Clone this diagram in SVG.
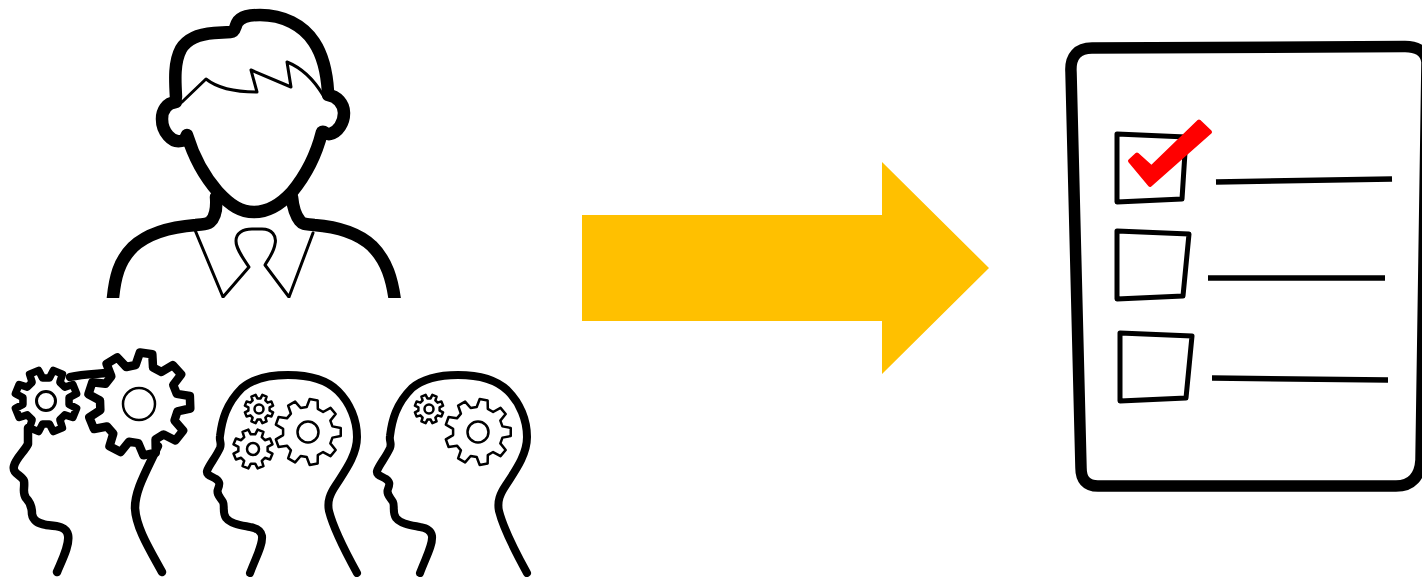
<svg xmlns="http://www.w3.org/2000/svg" width="1422" height="577" viewBox="0 0 1422 577">
<style>
.ln{fill:none;stroke:#000;stroke-linecap:round;stroke-linejoin:round}
#g8,#g9{vector-effect:non-scaling-stroke}
.gear{fill:#fff;stroke:#000;stroke-linejoin:round}
.hub{fill:#fff;stroke:#000}
.tk{stroke-width:12.5}
.head{stroke-width:8}
.box{fill:none;stroke:#000;stroke-width:5;stroke-linejoin:round}
.rule{fill:none;stroke:#000;stroke-width:5.5}
</style>
<defs>
<clipPath id="cut"><rect x="0" y="0" width="600" height="298"/></clipPath>
<path id="g9" d="M-8.55-37.03L-6.09-49.63L6.09-49.63L8.55-37.03L17.25-33.86L27.23-41.93L36.57-34.1L30.35-22.87L34.98-14.85L47.82-14.62L49.93-2.62L37.95 1.99L36.34 11.11L46.03 19.54L39.93 30.09L27.79 25.92L20.7 31.87L22.7 44.55L11.25 48.72L4.63 37.72L-4.63 37.72L-11.25 48.72L-22.7 44.55L-20.7 31.87L-27.79 25.92L-39.93 30.09L-46.03 19.54L-36.34 11.11L-37.95 1.99L-49.93-2.62L-47.82-14.62L-34.98-14.85L-30.35-22.87L-36.57-34.1L-27.23-41.93L-17.25-33.86Z"/>
<path id="g8" d="M-8.95-35.9L-7.82-49.38L7.82-49.38L8.95-35.9L19.06-31.71L29.39-40.45L40.45-29.39L31.71-19.06L35.9-8.95L49.38-7.82L49.38 7.82L35.9 8.95L31.71 19.06L40.45 29.39L29.39 40.45L19.06 31.71L8.95 35.9L7.82 49.38L-7.82 49.38L-8.95 35.9L-19.06 31.71L-29.39 40.45L-40.45 29.39L-31.71 19.06L-35.9 8.95L-49.38 7.82L-49.38-7.82L-35.9-8.95L-31.71-19.06L-40.45-29.39L-29.39-40.45L-19.06-31.71Z"/>
<path id="profile" d="M250 573C256 557 263 545 262 536C261 530 256 528 250 527C240 525 231 524 226 518C222 512 225 506 223 502C220 497 216 494 218 489C220 484 220 482 216 479C211 476 206 475 207 471C209 465 216 457 220 448C222 443 219 441 220 436C222 420 226 404 242 388C254 378 270 375 288 375C312 375 328 381 338 391C350 403 357 420 357 437C357 455 345 471 336 485C330 494 327 501 329 511C333 527 346 553 357 573"/>
</defs>

<g id="person">
<g clip-path="url(#cut)">
<path class="ln tk" d="M176 97C175 80 174 62 181 49C187 39 200 34 214 33L231 32C235 32 235 27 237 23C241 16 250 15 260 15C283 15 303 25 314 42C324 57 327 75 328 92"/>
<path class="ln tk" d="M176 102C166 103 162 111 162 119C162 132 172 143 181 141C186 140 186 136 187 135C194 158 204 176 218 192C231 206 241 212 254 212C268 212 281 204 292 192C306 175 316 156 322 132C325 131 326 135 330 134C338 132 344 123 344 113C344 104 337 96 328 95"/>
<path class="ln tk" d="M216 197C217 208 215 218 210 222C206 225 202 224 196 225C170 227 148 233 133 247C120 260 114 275 112 310"/>
<path class="ln tk" d="M292 197C293 208 296 216 300 221C303 225 308 224 314 225C340 227 358 233 372 246C386 260 393 278 396 310"/>
<path class="ln" stroke-width="3" d="M195 230L223 297L249 267C243 258 236 249 236 241C236 233 243 229 252 229L262 229C272 229 277 236 275 244C274 252 269 258 265 265L289 297L313 233"/>
<path class="ln" stroke-width="3" d="M182 102L206 79C216 87 232 92 257 92L251 70L291 87L287 62C302 68 314 80 323 95"/>
</g>
</g>

<g id="head-a">
<path class="ln" stroke-width="8.500" d="M28 428L28 444C24 452 16 458 14 466C12 474 22 475 24 481C25 488 22 493 26 498C31 503 32 508 32 514C33 521 38 523 46 525C56 526 66 526 68 535C70 545 62 560 57 572"/>
<path class="ln" stroke-width="8.500" d="M158 446C146 472 135 490 135 508C136 528 150 550 162 572"/>
<path class="ln" stroke-width="8.500" d="M70 377C82 374 95 374 107 373"/>
<use href="#g8" class="gear" style="stroke-width:7.500" transform="translate(46 401) rotate(22.5) scale(.63)"/>
<circle class="hub" cx="46" cy="401" r="9.500" stroke-width="3"/>
<use href="#g9" class="gear" style="stroke-width:8.500" transform="translate(139 404) rotate(8) scale(1.03)"/>
<circle class="hub" cx="139" cy="404" r="16" stroke-width="2.500"/>
</g>

<g id="head-b">
<use href="#profile" class="ln head"/>
<use href="#g9" class="gear" style="stroke-width:2.500" transform="translate(308 432) rotate(10) scale(.66)"/>
<circle class="hub" cx="308" cy="432" r="10.500" stroke-width="2.500"/>
<use href="#g8" class="gear" style="stroke-width:2.500" transform="translate(259 409) rotate(22.5) scale(.29)"/>
<circle class="hub" cx="259" cy="409" r="4.500" stroke-width="2.500"/>
<use href="#g8" class="gear" style="stroke-width:2.500" transform="translate(253 449) rotate(22.5) scale(.4)"/>
<circle class="hub" cx="253" cy="449" r="6" stroke-width="2.500"/>
</g>

<g id="head-c">
<use href="#profile" class="ln head" transform="translate(170 0)"/>
<use href="#g9" class="gear" style="stroke-width:2.500" transform="translate(478 432) rotate(10) scale(.66)"/>
<circle class="hub" cx="478" cy="432" r="10.500" stroke-width="2.500"/>
<use href="#g8" class="gear" style="stroke-width:2.500" transform="translate(429 409) rotate(22.5) scale(.29)"/>
<circle class="hub" cx="429" cy="409" r="4.500" stroke-width="2.500"/>
</g>

<g id="arrow">
<polygon fill="#FFC000" points="582,215 882,215 882,162 989,268 882,374 882,321 582,321"/>
</g>

<g id="checklist">
<path class="ln" stroke-width="11.500" d="M1071 72C1070 56 1078 48 1092 48L1405 46.500C1418 46.500 1426 52 1427 62L1421 460C1420 476 1412 486 1396 486L1098 486C1086 486 1081 479 1081 468Z"/>
<polygon class="box" points="1117,134 1186,137 1182,199 1117,202"/>
<polygon class="box" points="1117,231 1189,234 1183,296 1117,299"/>
<polygon class="box" points="1120,333 1192,336 1186,398 1120,401"/>
<path class="rule" d="M1216 182L1392 179"/>
<path class="rule" d="M1208 278L1385 278"/>
<path class="rule" d="M1212 378L1388 380"/>
<polygon fill="#f00" stroke="#f00" stroke-width="4" stroke-linejoin="round" points="1137,154.500 1151.500,167.500 1199,121.500 1210,132 1150,185 1130,161"/>
</g>
</svg>
